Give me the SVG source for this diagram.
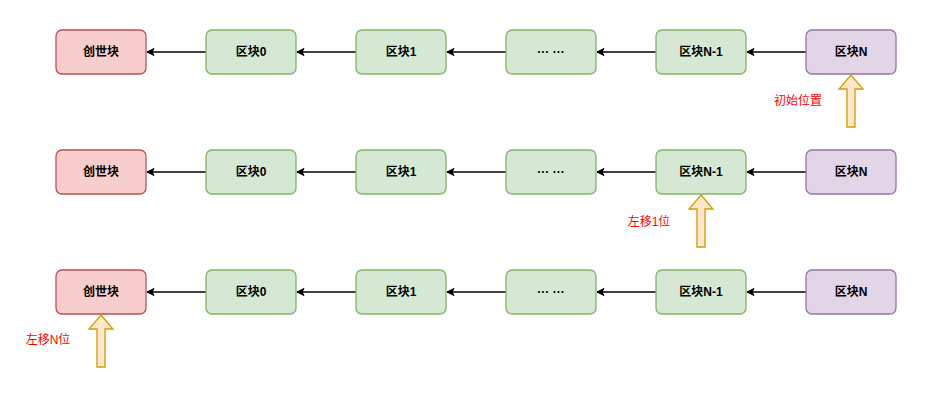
<svg xmlns="http://www.w3.org/2000/svg" width="949" height="400" viewBox="0 0 949 400">
<defs>
<style>
.n rect{stroke-width:1.3}
.r rect{fill:#f8cecc;stroke:#b85450}
.g rect{fill:#d5e8d4;stroke:#82b366}
.p rect{fill:#e1d5e7;stroke:#9673a6}
.n text{font-family:"Liberation Sans","Noto Sans CJK SC",sans-serif;font-size:12px;font-weight:bold;fill:#000;text-anchor:middle;dominant-baseline:central}
.e{stroke:#000;stroke-width:1.3;fill:none;marker-end:url(#ah)}
.ba{fill:#ffe6cc;stroke:#d79b00;stroke-width:1.3}
.lb{font-family:"Liberation Sans","Noto Sans CJK SC",sans-serif;font-size:12px;fill:#ff0000;text-anchor:middle;dominant-baseline:central}
</style>
<marker id="ah" markerWidth="10" markerHeight="10" refX="8" refY="5" orient="auto" markerUnits="userSpaceOnUse">
<path d="M1,1.5 L8,5 L1,8.5 L3,5 Z" fill="#000" stroke="#000" stroke-width="1"/>
</marker>
</defs>
<rect width="949" height="400" fill="#fff"/>
<g id="connectors">
<path class="e" d="M206,52 H147"/><path class="e" d="M356,52 H297"/><path class="e" d="M506,52 H447"/><path class="e" d="M656,52 H597"/><path class="e" d="M806,52 H747"/>
<path class="e" d="M206,172 H147"/><path class="e" d="M356,172 H297"/><path class="e" d="M506,172 H447"/><path class="e" d="M656,172 H597"/><path class="e" d="M806,172 H747"/>
<path class="e" d="M206,292 H147"/><path class="e" d="M356,292 H297"/><path class="e" d="M506,292 H447"/><path class="e" d="M656,292 H597"/><path class="e" d="M806,292 H747"/>
</g>
<g id="r1n0" class="n r"><rect x="56" y="30" width="90" height="44" rx="6"/><text x="101" y="52">创世块</text></g>
<g id="r1n1" class="n g"><rect x="206" y="30" width="90" height="44" rx="6"/><text x="251" y="52">区块0</text></g>
<g id="r1n2" class="n g"><rect x="356" y="30" width="90" height="44" rx="6"/><text x="401" y="52">区块1</text></g>
<g id="r1n3" class="n g"><rect x="506" y="30" width="90" height="44" rx="6"/><text x="551" y="52">··· ···</text></g>
<g id="r1n4" class="n g"><rect x="656" y="30" width="90" height="44" rx="6"/><text x="701" y="52">区块N-1</text></g>
<g id="r1n5" class="n p"><rect x="806" y="30" width="90" height="44" rx="6"/><text x="851" y="52">区块N</text></g>
<g id="r2n0" class="n r"><rect x="56" y="150" width="90" height="44" rx="6"/><text x="101" y="172">创世块</text></g>
<g id="r2n1" class="n g"><rect x="206" y="150" width="90" height="44" rx="6"/><text x="251" y="172">区块0</text></g>
<g id="r2n2" class="n g"><rect x="356" y="150" width="90" height="44" rx="6"/><text x="401" y="172">区块1</text></g>
<g id="r2n3" class="n g"><rect x="506" y="150" width="90" height="44" rx="6"/><text x="551" y="172">··· ···</text></g>
<g id="r2n4" class="n g"><rect x="656" y="150" width="90" height="44" rx="6"/><text x="701" y="172">区块N-1</text></g>
<g id="r2n5" class="n p"><rect x="806" y="150" width="90" height="44" rx="6"/><text x="851" y="172">区块N</text></g>
<g id="r3n0" class="n r"><rect x="56" y="270" width="90" height="44" rx="6"/><text x="101" y="292">创世块</text></g>
<g id="r3n1" class="n g"><rect x="206" y="270" width="90" height="44" rx="6"/><text x="251" y="292">区块0</text></g>
<g id="r3n2" class="n g"><rect x="356" y="270" width="90" height="44" rx="6"/><text x="401" y="292">区块1</text></g>
<g id="r3n3" class="n g"><rect x="506" y="270" width="90" height="44" rx="6"/><text x="551" y="292">··· ···</text></g>
<g id="r3n4" class="n g"><rect x="656" y="270" width="90" height="44" rx="6"/><text x="701" y="292">区块N-1</text></g>
<g id="r3n5" class="n p"><rect x="806" y="270" width="90" height="44" rx="6"/><text x="851" y="292">区块N</text></g>
<g id="ptr1"><path class="ba" d="M851,75 L863,89 L855,89 L855,127 L847,127 L847,89 L839,89 Z"/><text class="lb" x="798" y="101">初始位置</text></g>
<g id="ptr2"><path class="ba" d="M701,195 L713,209 L705,209 L705,247 L697,247 L697,209 L689,209 Z"/><text class="lb" x="649" y="222">左移1位</text></g>
<g id="ptr3"><path class="ba" d="M101,315 L113,329 L105,329 L105,367 L97,367 L97,329 L89,329 Z"/><text class="lb" x="48" y="340">左移N位</text></g>
</svg>
